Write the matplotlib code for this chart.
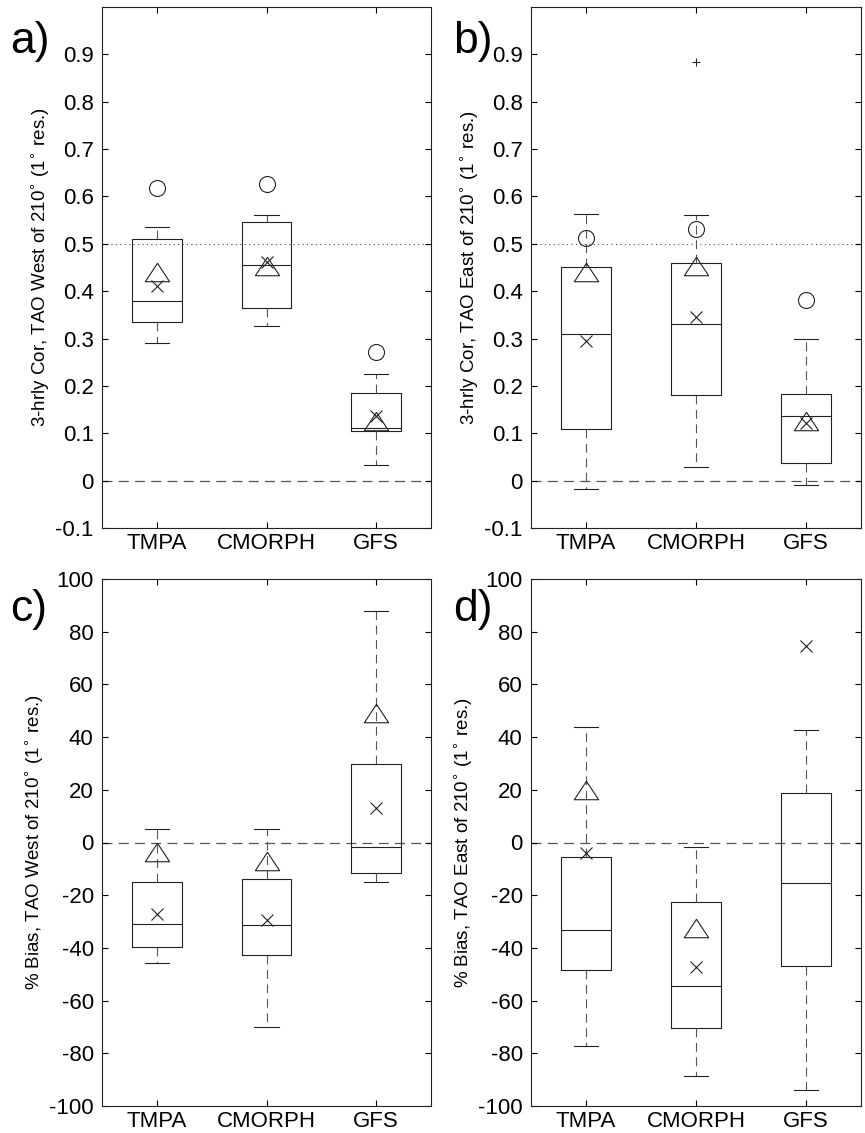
import matplotlib
matplotlib.use('Agg')
import matplotlib.pyplot as plt
import numpy as np

plt.rcParams['font.family'] = ['Liberation Sans', 'DejaVu Sans']
plt.rcParams['axes.unicode_minus'] = False

cats = ['TMPA', 'CMORPH', 'GFS']

# a) 3-hourly correlation, west of 210
a_q1 = [0.334, 0.365, 0.104]
a_med = [0.379, 0.455, 0.111]
a_q3 = [0.511, 0.546, 0.186]
a_lo = [0.291, 0.327, 0.033]
a_hi = [0.535, 0.560, 0.226]
a_out = [[], [], []]
a_circ = [0.618, 0.626, 0.271]
a_tri = [0.440, 0.453, 0.126]
a_x = [0.411, 0.462, 0.136]

# b) 3-hourly correlation, east of 210
b_q1 = [0.109, 0.181, 0.038]
b_med = [0.309, 0.331, 0.137]
b_q3 = [0.452, 0.459, 0.183]
b_lo = [-0.017, 0.029, -0.009]
b_hi = [0.563, 0.560, 0.300]
b_out = [[], [0.883], []]
b_circ = [0.513, 0.532, 0.381]
b_tri = [0.440, 0.453, 0.125]
b_x = [0.295, 0.346, 0.122]

# c) % bias, west of 210
c_q1 = [-39.7, -42.6, -11.5]
c_med = [-31.0, -31.3, -1.8]
c_q3 = [-14.9, -13.7, 29.9]
c_lo = [-45.6, -70.1, -15.1]
c_hi = [5.0, 5.2, 87.9]
c_out = [[], [], []]
c_tri = [-3.7, -6.9, 49.2]
c_x = [-27.2, -29.5, 13.2]

# d) % bias, east of 210
d_q1 = [-48.2, -70.5, -46.7]
d_med = [-33.1, -54.6, -15.3]
d_q3 = [-5.5, -22.7, 18.7]
d_lo = [-77.4, -88.5, -94.1]
d_hi = [43.9, -1.8, 42.6]
d_out = [[], [], []]
d_tri = [19.8, -32.4, np.nan]
d_x = [-4.1, -47.1, 74.5]

fig = plt.figure(figsize=(8.65, 11.33), dpi=100)
W, H = 865, 1133


def make_ax(x0, y0, x1, y1):
    return fig.add_axes([x0 / W, 1 - y1 / H, (x1 - x0) / W, (y1 - y0) / H])


tri = [(0, 0.76), (-1, -0.76), (1, -0.76), (0, 0.76)]
lw = 0.8
dash = (0, (8, 5))


def panel(ax, q1, med, q3, lo, hi, out, tri_v, x_v, circ=None):
    stats = []
    for i in range(3):
        stats.append(dict(q1=q1[i], med=med[i], q3=q3[i], whislo=lo[i],
                          whishi=hi[i], fliers=out[i]))
    ax.bxp(stats, positions=[1, 2, 3], widths=0.45, capwidths=0.22,
           boxprops=dict(color='#222222', lw=lw),
           medianprops=dict(color='#222222', lw=lw),
           whiskerprops=dict(color='#555555', lw=lw, ls=dash),
           capprops=dict(color='#222222', lw=lw),
           flierprops=dict(marker='+', markeredgecolor='#222222',
                           markersize=6, markeredgewidth=0.8))
    pos = np.arange(1, 4)
    if circ is not None:
        ax.plot(pos, circ, ls='none', marker='o', mfc='none', mec='#222222',
                ms=11.5, mew=lw)
    ax.plot(pos, tri_v, ls='none', marker=tri, mfc='none', mec='#222222',
            ms=17.5, mew=lw)
    ax.plot(pos, x_v, ls='none', marker='x', mec='#222222', ms=9, mew=lw)
    ax.set_xlim(0.5, 3.5)
    ax.set_xticks(pos)
    ax.set_xticklabels(cats)
    ax.tick_params(direction='in', top=True, right=True, length=4,
                   labelsize=16, width=0.8, pad=6)
    ax.tick_params(axis='x', pad=3.5)
    for s in ax.spines.values():
        s.set_linewidth(0.8)
        s.set_color('#222222')


ax_a = make_ax(102, 7, 431, 528)
ax_b = make_ax(531, 7, 861, 528)
ax_c = make_ax(102, 579, 431, 1106)
ax_d = make_ax(531, 579, 861, 1106)

for ax in (ax_a, ax_b):
    ax.axhline(0.5, color='#444444', lw=0.8, ls=(0, (1, 3)), zorder=0)
    ax.axhline(0, color='#555555', lw=0.9, ls=dash, zorder=0)
for ax in (ax_c, ax_d):
    ax.axhline(0, color='#555555', lw=0.9, ls=dash, zorder=0)

panel(ax_a, a_q1, a_med, a_q3, a_lo, a_hi, a_out, a_tri, a_x, a_circ)
panel(ax_b, b_q1, b_med, b_q3, b_lo, b_hi, b_out, b_tri, b_x, b_circ)
panel(ax_c, c_q1, c_med, c_q3, c_lo, c_hi, c_out, c_tri, c_x)
panel(ax_d, d_q1, d_med, d_q3, d_lo, d_hi, d_out, d_tri, d_x)

cor_ticks = np.round(np.arange(-0.1, 0.95, 0.1), 1)
for ax in (ax_a, ax_b):
    ax.set_ylim(-0.1, 1.0)
    ax.set_yticks(cor_ticks)
    ax.set_yticklabels(['0' if t == 0 else f'{t:g}' for t in cor_ticks])
for ax in (ax_c, ax_d):
    ax.set_ylim(-100, 100)
    ax.set_yticks(np.arange(-100, 101, 20))

deg = r'$^{\circ}$'
ax_a.set_ylabel('3-hrly Cor, TAO West of 210' + deg + ' (1' + deg + ' res.)', fontsize=13.5, labelpad=3)
ax_b.set_ylabel('3-hrly Cor, TAO East of 210' + deg + ' (1' + deg + ' res.)', fontsize=13.5, labelpad=3)
ax_c.set_ylabel('% Bias, TAO West of 210' + deg + ' (1' + deg + ' res.)', fontsize=13.5, labelpad=3)
ax_d.set_ylabel('% Bias, TAO East of 210' + deg + ' (1' + deg + ' res.)', fontsize=13.5, labelpad=3)

for lab, x, y in [('a)', 10, 42), ('b)', 453, 42), ('c)', 10, 610), ('d)', 453, 610)]:
    fig.text(x / W, 1 - y / H, lab, fontsize=32, va='center', ha='left')

fig.savefig('out.png', dpi=100)
